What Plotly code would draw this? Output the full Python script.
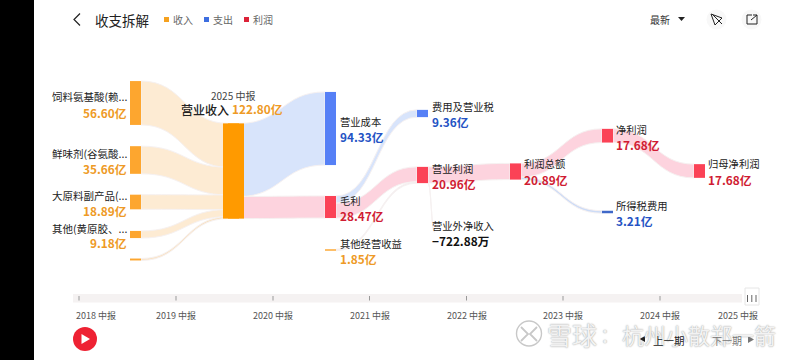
import plotly.graph_objects as go

# ---------- data ----------
node_names = ["饲料氨基酸(赖...", "鲜味剂(谷氨酸...", "大原料副产品(...", "其他(黄原胶、...", "",
              "营业收入", "营业成本", "毛利", "其他经营收益",
              "费用及营业税", "营业利润", "营业外净收入", "利润总额",
              "净利润", "所得税费用", "归母净利润"]
node_values = [56.60, 35.66, 18.89, 9.18, 2.47, 122.80, 94.33, 28.47, 1.85,
               9.36, 20.96, 0.0723, 20.89, 17.68, 3.21, 17.68]
node_value_text = ["56.60亿", "35.66亿", "18.89亿", "9.18亿", "", "122.80亿", "94.33亿", "28.47亿",
                   "1.85亿", "9.36亿", "20.96亿", "−722.88万", "20.89亿", "17.68亿", "3.21亿", "17.68亿"]
link_source = [0, 1, 2, 3, 4, 5, 5, 7, 7, 8, 10, 10, 12, 12, 13]
link_target = [5, 5, 5, 5, 5, 6, 7, 9, 10, 10, 12, 11, 13, 14, 15]
link_value = [56.60, 35.66, 18.89, 9.18, 2.47, 94.33, 28.47, 9.36, 19.11, 1.85, 20.89, 0.0723, 17.68, 3.21, 17.68]
periods = ["2018 中报", "2019 中报", "2020 中报", "2021 中报", "2022 中报", "2023 中报", "2024 中报", "2025 中报"]
legend_names = ["收入", "支出", "利润"]

# ---------- layout constants (pixels in the 800x360 page) ----------
W, H = 800, 360
FONT = "Noto Sans CJK SC"
SCALE_H = 96.6           # sankey domain height that yields ~0.775 px per 亿
ORANGE, BLUE, RED = "#fda62f", "#5680f6", "#fb4256"
L_OR, L_BL, L_RD = "#fdebd3", "#d8e4fb", "#fdd3de"
cx = [135.5, 135.5, 135.5, 135.5, 135.5, 233.5, 330.5, 330.5, 330.5, 422.5, 422.5, 440, 515.5, 607.5, 607.5, 699.5]
cy = [103, 160, 202, 234.5, 259.5, 171, 128.5, 207, 250, 113.5, 175, 232, 171.5, 135.7, 212, 171]
ncol = [ORANGE] * 5 + ["#ff9a00", BLUE, RED, ORANGE, BLUE, RED, "rgba(0,0,0,0)", RED, RED, "#3f68c8", RED]
lcol = [L_OR] * 4 + ["#fae3c4"] + [L_BL, L_RD, L_BL, L_RD, "#f3ecee", L_RD, "#f6f1f1", L_RD, "#cddcf7", L_RD]

fig = go.Figure()
fig.add_trace(go.Scatter(x=[], y=[], hoverinfo="skip"))
domain_y = [1 - SCALE_H / H, 1]
fig.add_trace(go.Sankey(
    arrangement="fixed", hoverinfo="skip", textfont=dict(size=1, color="rgba(0,0,0,0)"),
    domain=dict(x=[0, 1], y=domain_y),
    node=dict(thickness=11, pad=0, line=dict(width=0), color=ncol, label=[""] * len(node_names),
              x=[c / W for c in cx], y=[c / SCALE_H for c in cy], hoverinfo="skip"),
    link=dict(source=link_source, target=link_target, value=link_value, color=lcol,
              line=dict(width=[0] * 9 + [0] + [0, 0.5] + [0] * 3, color="#f6f1f1"), hoverinfo="skip"),
))
# wider centre node: a second sankey holding only 营业收入 at a larger thickness
H2 = node_values[5] * 0.775
fig.add_trace(go.Sankey(
    arrangement="fixed", hoverinfo="skip", textfont=dict(size=1, color="rgba(0,0,0,0)"),
    domain=dict(x=[0, 1], y=[1 - H2 / H, 1]),
    node=dict(thickness=21, pad=0, line=dict(width=0), color=["rgba(0,0,0,0)", "#ff9a00"], label=["", ""],
              x=[0.05, cx[5] / W], y=[0.5, cy[5] / H2], hoverinfo="skip"),
    link=dict(source=[0], target=[1], value=[node_values[5]], color="rgba(0,0,0,0)", hoverinfo="skip"),
))

anns, shapes = [], []
def T(x, y, s, size=11, color="#222", anchor="left", weight=400, shadow=None):
    f = dict(family=FONT, size=size, color=color, weight=weight)
    if shadow:
        f["shadow"] = shadow
    anns.append(dict(x=x / W, y=1 - y / H, xref="paper", yref="paper", text=s,
                     showarrow=False, xanchor=anchor, yanchor="middle", align=anchor,
                     font=f, borderpad=0, borderwidth=0))
def R(x0, y0, x1, y1, fill, **kw):
    shapes.append(dict(type="rect", xref="paper", yref="paper", x0=x0 / W, x1=x1 / W, y0=1 - y0 / H, y1=1 - y1 / H,
                       fillcolor=fill, line=dict(width=0), layer=kw.get("layer", "above")))
def P(path, fill="rgba(0,0,0,0)", line=None, width=1):
    shapes.append(dict(type="path", xref="x", yref="y", path=path, fillcolor=fill,
                       line=dict(width=width if line else 0, color=line or "rgba(0,0,0,0)"), layer="above"))
def C(x, y, r, fill, line=None, width=1):
    shapes.append(dict(type="circle", xref="x", yref="y", x0=x - r, x1=x + r, y0=y - r, y1=y + r, fillcolor=fill,
                       line=dict(width=width if line else 0, color=line or "rgba(0,0,0,0)"), layer="above"))

# phone-frame band on the left
R(0, 0, 34, H, "#000000")

# header
P("M 80 13.5 L 74 19.5 L 80 25.5", line="#222", width=1.2)
T(94.5, 19.5, "收支拆解", 13.5, "#222")
for lx, nm, c in zip([164, 204, 244], legend_names, ["#f5a11f", "#3d6ee0", "#dc2238"]):
    R(lx, 17, lx + 5, 22, c)
    T(lx + 9, 19.5, nm, 10, "#666")

# top-right controls
P("M 653 9 H 682 A 10.5 10.5 0 0 1 682 30 H 653 A 10.5 10.5 0 0 1 653 9 Z", fill="#f6f6f6")
T(650, 19.5, "最新", 10, "#333")
P("M 678 17 H 685 L 681.5 21 Z", fill="#222")
C(716.5, 19.5, 10, "#f8f8f8")
P("M 711 14 L 722 18 L 715 25 Z M 712 14 L 722 24", line="#222", width=1)
C(751.5, 19.5, 10, "#f8f8f8")
P("M 752 15 H 747 V 24 H 757 V 19 M 751 20 L 757 15 M 753 15 H 757 V 19", line="#222", width=1)

# centre caption
T(233, 96, "2025 中报", 10, "#444", "center")
T(181, 109, "营业收入", 12, "#222", weight=500)
T(232, 108.5, node_value_text[5], 11.8, "#ee9a26", weight=700)

# left column labels
for i, yn, yv in [(0, 97, 112), (1, 153, 168.5), (2, 196, 210.5), (3, 228, 242)]:
    T(127, yn, node_names[i], 10.5, "#222", "right")
    T(127, yv, node_value_text[i], 11.8, "#ee9a26", "right", weight=700)

# right-side labels: (index, x, name y, value y, colour)
B2, R2, O2 = "#2453c4", "#d01c33", "#ee9a26"
for i, x, yn, yv, c in [(6, 340, 121, 136, B2), (7, 340, 200, 215, R2), (8, 340, 243, 258, O2),
                        (9, 432, 106.5, 121.5, B2), (10, 432, 168, 183, R2), (11, 432, 225, 240, "#111"),
                        (12, 524, 164, 179, R2), (13, 616, 129, 144, R2), (14, 616, 205, 220, B2),
                        (15, 708, 164, 179, R2)]:
    T(x, yn, node_names[i], 10.3, "#222")
    T(x, yv, node_value_text[i], 11.8, c, weight=700)

# time slider
R(73, 294, 742, 302.5, "#f5f2f2")
tick_x = [79, 176, 273, 369.5, 466.5, 563, 660]
for tx, lab in zip(tick_x, periods):
    R(tx - 0.5, 296, tx + 0.5, 300.5, "#999999")
    T(tx + (17 if tx == 79 else 0), 315.5, lab, 9, "#555", "center")
T(738, 315.5, periods[-1], 9, "#555", "center")
P("M 745 288 H 759 A 3 3 0 0 1 762 291 V 305 A 3 3 0 0 1 759 308 H 745 A 3 3 0 0 1 742 305 V 291 A 3 3 0 0 1 745 288 Z",
  fill="#ffffff", line="#e6e6e6", width=1)
for bx in [747.5, 751.8, 756]:
    R(bx - 0.5, 295, bx + 0.5, 302, "#666666")

# play button
C(85, 339, 12, "#ee2233")
P("M 81.5 334 L 90 339 L 81.5 344 Z", fill="#ffffff")

# watermark
WM_SHADOW = "0 0 1.5px #8a8a8a"
C(529, 333.5, 12.5, "rgba(0,0,0,0)", line="#c8c8c8", width=1.4)
P("M 521 327 L 528 334 L 521 341 M 537 327 L 530 334 L 537 341", line="#c8c8c8", width=1.8)
T(547, 334, "雪球", 25, "#f2f2f2", shadow=WM_SHADOW)
T(600, 334, "：", 20, "#f2f2f2", shadow=WM_SHADOW)
T(622, 334, "杭州小散郑一箭", 22, "#f2f2f2", shadow=WM_SHADOW)

# period pager (above the watermark)
P("M 645 336 L 639.5 339 L 645 342 Z", fill="#222")
T(652.5, 340, "上一期", 10.5, "#222")
T(712, 340, "下一期", 10, "#777")
P("M 748 336 L 754 339.5 L 748 343 Z", fill="#777")

fig.update_layout(
    width=W, height=H, margin=dict(l=0, r=0, t=0, b=0), paper_bgcolor="#ffffff", plot_bgcolor="rgba(0,0,0,0)",
    showlegend=False, annotations=anns, shapes=shapes,
    xaxis=dict(range=[0, W], visible=False, fixedrange=True),
    yaxis=dict(range=[H, 0], visible=False, fixedrange=True),
)
fig.write_html("out.html", config={"displayModeBar": False},
               post_script="document.body.style.margin='0';document.documentElement.style.overflow='hidden';")
